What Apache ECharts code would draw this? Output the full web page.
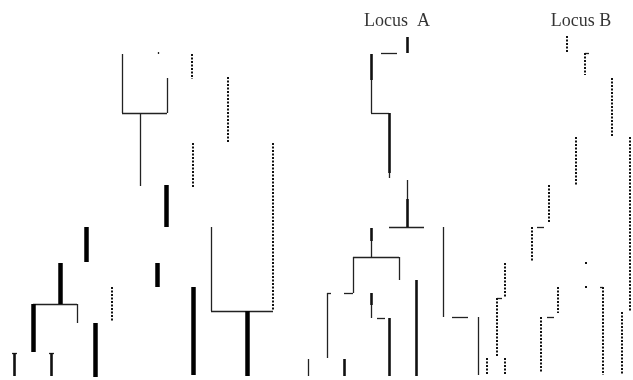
<!DOCTYPE html>
<html>
<head>
<meta charset="utf-8">
<script src="https://cdn.jsdelivr.net/npm/echarts@6/dist/echarts.min.js"></script>
<style>
  html, body { margin: 0; padding: 0; background: #fff; }
  #chart { width: 633px; height: 380px; }
</style>
</head>
<body>
<div id="chart"></div>
<script>
// segments are [x1, y1, x2, y2] in picture units
var thinSegs = [
  [122, 54, 122, 113], [122, 113, 167, 113], [167, 78, 167, 113], [140, 113, 140, 186],
  [33, 304, 77, 304], [77, 304, 77, 323], [211, 227, 211, 311], [211, 311, 273, 311],
  [158, 52, 158, 54], [12, 353, 17, 353], [49, 353, 54, 353],
  [381, 53, 397, 53], [371, 80, 371, 113], [371, 113, 389, 113], [389, 173, 389, 178],
  [407, 180, 407, 199], [389, 227, 424, 227], [371, 241, 371, 257], [353, 257, 399, 257],
  [399, 257, 399, 280], [353, 257, 353, 293], [344, 293, 353, 293], [327, 293, 331, 293],
  [327, 293, 327, 358], [371, 305, 371, 318], [377, 318, 385, 318], [443, 227, 443, 317],
  [452, 317, 468, 317], [478, 317, 478, 375], [308, 359, 308, 376],
  [537, 227, 544, 227], [497, 298, 502, 298], [547, 317, 554, 317], [585, 53, 589, 53],
  [600, 287, 603, 287]
];
var mediumSegs = [
  [14, 353, 14, 376], [51, 353, 51, 376],
  [407, 37, 407, 53], [371, 54, 371, 80], [389, 113, 389, 173], [407, 199, 407, 227],
  [371, 228, 371, 241], [371, 293, 371, 305], [389, 318, 389, 376], [416, 280, 416, 376],
  [344, 359, 344, 376]
];
var thickSegs = [
  [86, 227, 86, 262], [60, 263, 60, 304], [33, 304, 33, 352], [95, 323, 95, 377],
  [157, 263, 157, 287], [166, 185, 166, 227], [193, 287, 193, 375], [247, 311, 247, 376]
];
var dottedSegs = [
  [192, 54, 192, 79], [228, 77, 228, 143], [193, 143, 193, 187], [273, 143, 273, 310],
  [112, 287, 112, 322], [487, 358, 487, 375],
  [567, 36, 567, 53], [585, 53, 585, 75], [612, 78, 612, 137], [576, 137, 576, 185],
  [630, 137, 630, 311], [549, 185, 549, 223], [532, 227, 532, 262], [505, 263, 505, 297],
  [497, 298, 497, 357], [505, 358, 505, 375], [541, 317, 541, 373], [558, 287, 558, 313],
  [603, 287, 603, 375], [622, 312, 622, 375], [586, 262, 586, 265], [586, 286, 586, 289]
];
var locusLabels = [
  { text: 'Locus  A', x: 397, y: 21 },
  { text: 'Locus B', x: 581, y: 21 }
];

function toLines(segs) {
  return segs.map(function (s) {
    return { coords: [[s[0], s[1]], [s[2], s[3]]] };
  });
}

var myChart = echarts.init(document.getElementById('chart'));
myChart.setOption({
  animation: false,
  grid: { left: 0, right: 0, top: 0, bottom: 0 },
  xAxis: { type: 'value', min: 0, max: 633, show: false },
  yAxis: { type: 'value', min: 0, max: 380, inverse: true, show: false },
  series: [
    {
      type: 'lines', coordinateSystem: 'cartesian2d', silent: true,
      lineStyle: { color: '#222', width: 1.3, opacity: 1 },
      data: toLines(thinSegs)
    },
    {
      type: 'lines', coordinateSystem: 'cartesian2d', silent: true,
      lineStyle: { color: '#111', width: 2.6, opacity: 1 },
      data: toLines(mediumSegs)
    },
    {
      type: 'lines', coordinateSystem: 'cartesian2d', silent: true,
      lineStyle: { color: '#000', width: 4.5, opacity: 1 },
      data: toLines(thickSegs)
    },
    {
      type: 'lines', coordinateSystem: 'cartesian2d', silent: true,
      lineStyle: { color: '#111', width: 2, opacity: 1, type: [2, 1.5] },
      data: toLines(dottedSegs)
    },
    {
      type: 'scatter', silent: true, symbolSize: 0,
      data: locusLabels.map(function (l) { return { value: [l.x, l.y], name: l.text }; }),
      label: {
        show: true, position: 'inside', formatter: '{b}',
        fontFamily: 'Liberation Serif', fontSize: 18, color: '#000'
      }
    }
  ]
});
</script>
</body>
</html>
